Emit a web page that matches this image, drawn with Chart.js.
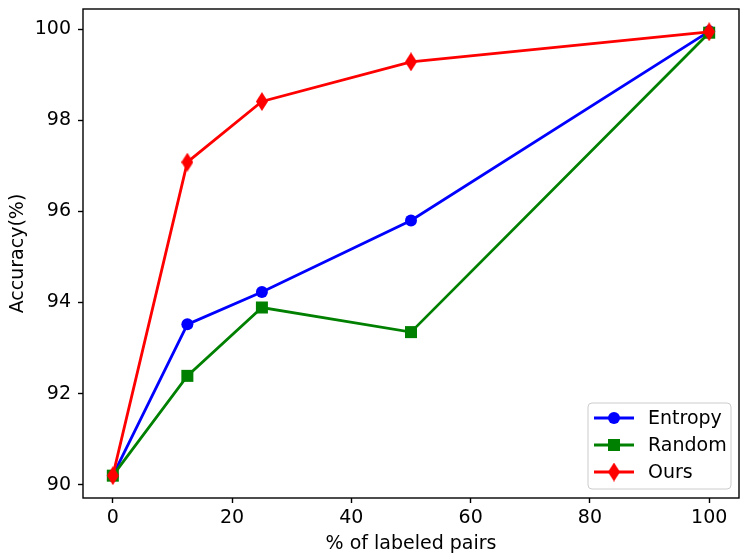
<!DOCTYPE html>
<html>
<head>
<meta charset="utf-8">
<script src="https://cdn.jsdelivr.net/npm/chart.js@4/dist/chart.umd.min.js"></script>
<style>
  html, body { margin: 0; padding: 0; background: #fff; }
  #wrap { width: 748px; height: 559px; }
</style>
</head>
<body>
<div id="wrap"><canvas id="chart"></canvas></div>
<script>
const labeledPct = [0, 12.5, 25, 50, 100];
const entropyAcc = [90.2, 93.52, 94.23, 95.8, 99.95];
const randomAcc = [90.2, 92.39, 93.89, 93.35, 99.92];
const oursAcc = [90.2, 97.08, 98.41, 99.28, 99.94];
const xTicks = [0, 20, 40, 60, 80, 100];
const yTicks = [90, 92, 94, 96, 98, 100];

// thin diamond like matplotlib's 'd' marker
function thinDiamond(color) {
  const c = document.createElement("canvas");
  c.width = 12;
  c.height = 19;
  const g = c.getContext("2d");
  g.fillStyle = color;
  g.beginPath();
  g.moveTo(6, 0);
  g.lineTo(12, 9.5);
  g.lineTo(6, 19);
  g.lineTo(0, 9.5);
  g.closePath();
  g.fill();
  return c;
}

function points(ys) {
  return labeledPct.map((x, i) => ({ x: x, y: ys[i] }));
}

Chart.defaults.font.family = "'DejaVu Sans', sans-serif";
Chart.defaults.font.size = 19;
Chart.defaults.color = "#000";

const frameAndLegend = {
  id: "frameAndLegend",
  afterDraw(chart) {
    const ctx = chart.ctx;
    const a = chart.chartArea;
    ctx.save();
    ctx.strokeStyle = "#000";
    ctx.lineWidth = 1.4;
    ctx.strokeRect(a.left, a.top, a.right - a.left, a.bottom - a.top);

    // legend box, lower right
    const bx = 588, by = 403, bw = 143, bh = 86;
    ctx.fillStyle = "rgba(255,255,255,0.8)";
    ctx.strokeStyle = "#cccccc";
    ctx.lineWidth = 1;
    ctx.beginPath();
    ctx.roundRect(bx, by, bw, bh, 4);
    ctx.fill();
    ctx.stroke();

    ctx.font = "19px 'DejaVu Sans', sans-serif";
    ctx.textBaseline = "middle";
    chart.data.datasets.forEach((ds, i) => {
      const y = 418 + i * 27;
      ctx.strokeStyle = ds.borderColor;
      ctx.lineWidth = ds.borderWidth;
      ctx.beginPath();
      ctx.moveTo(594, y);
      ctx.lineTo(634, y);
      ctx.stroke();
      ctx.fillStyle = ds.borderColor;
      Chart.helpers.drawPoint(ctx, {
        pointStyle: ds.pointStyle,
        radius: ds.pointRadius,
        rotation: 0,
        borderWidth: 0
      }, 614, y);
      ctx.fillStyle = "#000";
      ctx.fillText(ds.label, 648, y + 1);
    });
    ctx.restore();
  }
};

new Chart(document.getElementById("chart"), {
  type: "line",
  data: {
    datasets: [
      {
        label: "Entropy",
        data: points(entropyAcc),
        borderColor: "#0000ff",
        backgroundColor: "#0000ff",
        pointBackgroundColor: "#0000ff",
        borderWidth: 2.8,
        pointStyle: "circle",
        pointRadius: 6,
        pointBorderWidth: 0,
        order: 3
      },
      {
        label: "Random",
        data: points(randomAcc),
        borderColor: "#008000",
        backgroundColor: "#008000",
        pointBackgroundColor: "#008000",
        borderWidth: 2.8,
        pointStyle: "rect",
        pointRadius: 8.5,
        pointBorderWidth: 0,
        order: 2
      },
      {
        label: "Ours",
        data: points(oursAcc),
        borderColor: "#ff0000",
        backgroundColor: "#ff0000",
        pointBackgroundColor: "#ff0000",
        borderWidth: 2.8,
        pointStyle: thinDiamond("#ff0000"),
        pointRadius: 9,
        pointBorderWidth: 0,
        order: 1
      }
    ]
  },
  options: {
    responsive: true,
    maintainAspectRatio: false,
    animation: false,
    layout: { padding: { top: 9, right: 7, left: 0, bottom: 0 } },
    plugins: {
      legend: { display: false },
      tooltip: { enabled: false }
    },
    scales: {
      x: {
        type: "linear",
        min: -5,
        max: 105,
        afterBuildTicks: (s) => { s.ticks = xTicks.map((v) => ({ value: v })); },
        afterFit: (s) => { s.height = 61; s.paddingLeft = 0; s.paddingRight = 0; },
        grid: { drawOnChartArea: false, tickLength: 5, tickColor: "#000", tickWidth: 1.4 },
        border: { display: false },
        ticks: { padding: 4, maxRotation: 0 },
        title: { display: true, text: "% of labeled pairs", padding: { top: 0, bottom: 3.6 } }
      },
      y: {
        type: "linear",
        min: 89.71,
        max: 100.44,
        afterBuildTicks: (s) => { s.ticks = yTicks.map((v) => ({ value: v })); },
        afterFit: (s) => { s.width = 83; s.paddingTop = 0; s.paddingBottom = 0; },
        grid: { drawOnChartArea: false, tickLength: 5, tickColor: "#000", tickWidth: 1.4 },
        border: { display: false },
        ticks: { padding: 7 },
        title: { display: true, text: "Accuracy(%)", padding: { top: 6.6, bottom: 0 } }
      }
    }
  },
  plugins: [frameAndLegend]
});
</script>
</body>
</html>
